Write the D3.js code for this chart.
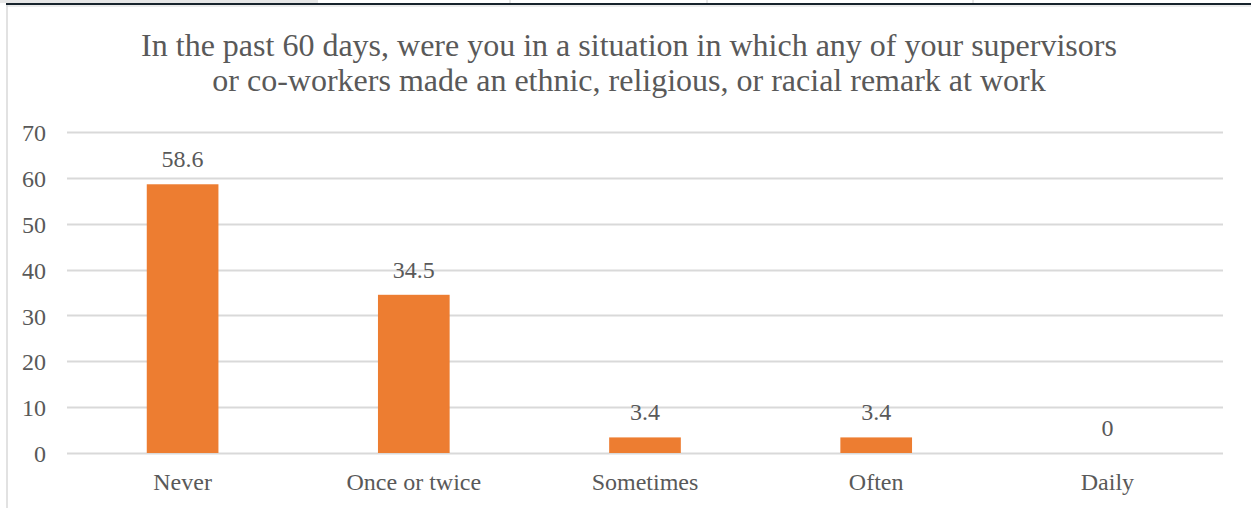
<html>
<head>
    <style>
        body { margin: 0; background: #fff; }
        svg text { font-family: "Liberation Serif", "Times New Roman", serif !important; fill: #595959; }
    </style>
</head>
<body>
    <div id="chart"></div>
    <script src="https://d3js.org/d3.v7.min.js"></script>
    <script>
        var categories = ["Never", "Once or twice", "Sometimes", "Often", "Daily"];
        var values = [58.6, 34.5, 3.4, 3.4, 0];
        var yTicks = [0, 10, 20, 30, 40, 50, 60, 70];
        var titleLines = [
            "In the past 60 days, were you in a situation in which any of your supervisors",
            "or co-workers made an ethnic, religious, or racial remark at work"
        ];

        var width = 1251, height = 508;
        var margin = { top: 132, right: 28, bottom: 55, left: 67 };

        var svg = d3.select("#chart").append("svg")
            .attr("width", width)
            .attr("height", height);

        // spreadsheet bits above the chart
        svg.append("rect").attr("x", 0).attr("y", 0).attr("width", 318).attr("height", 3).attr("fill", "#e6e6e6");
        [510, 707, 973].forEach(function (x) {
            svg.append("line").attr("x1", x).attr("x2", x).attr("y1", 0).attr("y2", 3)
                .attr("stroke", "#d0d0d0");
        });
        svg.append("rect").attr("x", 6).attr("y", 3).attr("width", width - 6).attr("height", 2).attr("fill", "#17232c");
        svg.append("line").attr("x1", 6).attr("x2", width).attr("y1", 6).attr("y2", 6).attr("stroke", "#d9d9d9");
        svg.append("line").attr("x1", 7).attr("x2", 7).attr("y1", 5).attr("y2", height).attr("stroke", "#d9d9d9").attr("stroke-width", 1.5);

        var x = d3.scaleBand()
            .domain(categories)
            .range([margin.left, width - margin.right])
            .paddingInner(0.69)
            .paddingOuter(0.345);

        var y = d3.scaleLinear()
            .domain([0, 70])
            .range([height - margin.bottom, margin.top]);

        // title
        svg.append("g").selectAll("text")
            .data(titleLines)
            .enter().append("text")
            .attr("x", 629)
            .attr("y", function (d, i) { return 56 + i * 35; })
            .attr("text-anchor", "middle")
            .style("font-size", "32px")
            .text(function (d) { return d; });

        // gridlines
        svg.append("g")
            .selectAll("line")
            .data(yTicks)
            .enter().append("line")
            .attr("x1", margin.left)
            .attr("x2", width - margin.right)
            .attr("y1", function (d) { return Math.round(y(d)) + 0.5; })
            .attr("y2", function (d) { return Math.round(y(d)) + 0.5; })
            .attr("stroke", "#d9d9d9")
            .attr("stroke-width", 2);

        // y axis labels
        var yAxis = d3.axisLeft(y).tickValues(yTicks).tickSize(0).tickPadding(0);
        var yg = svg.append("g")
            .attr("transform", "translate(" + 46 + ",0)")
            .call(yAxis);
        yg.select(".domain").remove();
        yg.selectAll("text").style("font-size", "24px").attr("fill", null).attr("dy", "0.36em");

        // bars
        svg.append("g")
            .selectAll("rect")
            .data(values)
            .enter().append("rect")
            .attr("x", function (d, i) { return x(categories[i]); })
            .attr("width", x.bandwidth())
            .attr("y", function (d) { return y(d); })
            .attr("height", function (d) { return y(0) - y(d); })
            .attr("fill", "#ed7d31");

        // data labels
        svg.append("g")
            .selectAll("text")
            .data(values)
            .enter().append("text")
            .attr("x", function (d, i) { return x(categories[i]) + x.bandwidth() / 2; })
            .attr("y", function (d) { return y(d) - 17; })
            .attr("text-anchor", "middle")
            .style("font-size", "24px")
            .text(function (d) { return d; });

        // x axis labels
        var xAxis = d3.axisBottom(x).tickSize(0).tickPadding(0);
        var xg = svg.append("g")
            .attr("transform", "translate(0," + (height - margin.bottom) + ")")
            .call(xAxis);
        xg.select(".domain").remove();
        xg.selectAll("text").style("font-size", "24px").attr("fill", null).attr("dy", null).attr("y", 37);
    </script>
</body>
</html>
